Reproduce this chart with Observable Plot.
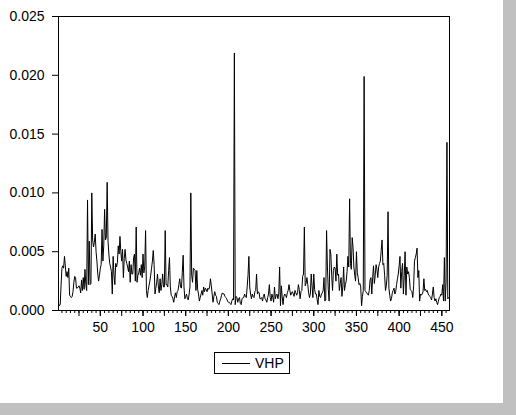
<!DOCTYPE html>
<html>
<head>
<meta charset="utf-8">
<script src="https://cdn.jsdelivr.net/npm/d3@7"></script>
<script src="https://cdn.jsdelivr.net/npm/@observablehq/plot@0.6"></script>
<style>
  html, body { margin: 0; padding: 0; background: #c0c0c0; }
  #wrap { position: relative; width: 516px; height: 415px; background: #c0c0c0; overflow: hidden; }
  #white { position: absolute; left: 0; top: 0; width: 503px; height: 403px; background: #ffffff; }
  #legend {
    position: absolute; left: 214px; top: 352px; width: 74px; height: 20px;
    border: 1px solid #000; display: flex; align-items: center;
    font-family: "Liberation Sans", Arial, sans-serif; font-size: 14px; color: #000;
  }
  #legend .swatch { width: 28px; height: 0; border-top: 1px solid #000; margin-left: 7px; margin-right: 5px; }
</style>
</head>
<body>
<div id="wrap">
  <div id="white">
    <div id="chart"></div>
    <div id="legend"><span class="swatch"></span><span id="legendLabel"></span></div>
  </div>
</div>
<script>
const seriesName = "VHP";
const yTicks = [0, 0.005, 0.010, 0.015, 0.020, 0.025];
const xLabelTicks = [50, 100, 150, 200, 250, 300, 350, 400, 450];
const xMajorTicks = [25, 50, 75, 100, 125, 150, 175, 200, 225, 250, 275, 300, 325, 350, 375, 400, 425, 450];
const xMinorTicks = [5,10,15,20,25,30,35,40,45,50,55,60,65,70,75,80,85,90,95,100,
  105,110,115,120,125,130,135,140,145,150,155,160,165,170,175,180,185,190,195,200,
  205,210,215,220,225,230,235,240,245,250,255,260,265,270,275,280,285,290,295,300,
  305,310,315,320,325,330,335,340,345,350,355,360,365,370,375,380,385,390,395,400,
  405,410,415,420,425,430,435,440,445,450,455];

const vhp = [
  0.0006,0.0004,0.0005,0.0021,0.0036,0.0038,0.0036,0.0046,0.0038,0.0029,
  0.0033,0.0028,0.0036,0.0013,0.0012,0.0011,0.0012,0.0016,0.0024,0.0029,
  0.0028,0.0019,0.0019,0.0020,0.0021,0.0019,0.0015,0.0026,0.0017,0.0028,
  0.0018,0.0035,0.0022,0.0017,0.0094,0.0022,0.0059,0.0022,0.0023,0.0100,
  0.0060,0.0054,0.0058,0.0065,0.0050,0.0042,0.0031,0.0025,0.0030,0.0036,
  0.0039,0.0069,0.0042,0.0055,0.0086,0.0060,0.0062,0.0109,0.0059,0.0048,
  0.0040,0.0037,0.0033,0.0014,0.0046,0.0030,0.0022,0.0040,0.0037,0.0041,
  0.0055,0.0048,0.0063,0.0050,0.0042,0.0052,0.0028,0.0044,0.0052,0.0043,
  0.0040,0.0037,0.0033,0.0042,0.0024,0.0039,0.0031,0.0031,0.0045,0.0048,
  0.0025,0.0071,0.0024,0.0030,0.0032,0.0036,0.0030,0.0039,0.0028,0.0048,
  0.0032,0.0037,0.0068,0.0017,0.0011,0.0017,0.0021,0.0025,0.0030,0.0036,
  0.0042,0.0051,0.0039,0.0014,0.0019,0.0024,0.0031,0.0020,0.0015,0.0027,
  0.0017,0.0022,0.0031,0.0020,0.0020,0.0068,0.0022,0.0022,0.0020,0.0034,
  0.0045,0.0020,0.0013,0.0012,0.0010,0.0007,0.0012,0.0015,0.0011,0.0016,
  0.0017,0.0022,0.0027,0.0020,0.0019,0.0032,0.0047,0.0020,0.0010,0.0012,
  0.0014,0.0010,0.0009,0.0014,0.0020,0.0100,0.0030,0.0024,0.0036,0.0035,
  0.0034,0.0017,0.0034,0.0018,0.0014,0.0008,0.0011,0.0014,0.0017,0.0013,
  0.0020,0.0016,0.0019,0.0018,0.0016,0.0019,0.0018,0.0020,0.0027,0.0021,
  0.0014,0.0007,0.0012,0.0016,0.0013,0.0012,0.0007,0.0006,0.0005,0.0008,
  0.0010,0.0013,0.0015,0.0014,0.0014,0.0012,0.0011,0.0010,0.0008,0.0007,
  0.0007,0.0006,0.0005,0.0008,0.0010,0.0009,0.0219,0.0005,0.0012,0.0011,
  0.0007,0.0010,0.0011,0.0006,0.0005,0.0010,0.0011,0.0011,0.0014,0.0012,
  0.0011,0.0020,0.0030,0.0046,0.0020,0.0014,0.0010,0.0014,0.0012,0.0011,
  0.0016,0.0017,0.0031,0.0014,0.0016,0.0015,0.0010,0.0010,0.0011,0.0008,
  0.0012,0.0014,0.0010,0.0009,0.0007,0.0011,0.0014,0.0022,0.0011,0.0008,
  0.0014,0.0011,0.0007,0.0020,0.0010,0.0013,0.0014,0.0010,0.0014,0.0037,
  0.0004,0.0021,0.0012,0.0005,0.0012,0.0014,0.0013,0.0011,0.0015,0.0017,
  0.0022,0.0017,0.0013,0.0015,0.0016,0.0014,0.0012,0.0017,0.0015,0.0013,
  0.0015,0.0022,0.0018,0.0010,0.0016,0.0017,0.0029,0.0031,0.0071,0.0021,
  0.0023,0.0028,0.0022,0.0015,0.0011,0.0014,0.0031,0.0021,0.0011,0.0031,
  0.0018,0.0014,0.0014,0.0009,0.0005,0.0017,0.0012,0.0011,0.0014,0.0015,
  0.0017,0.0028,0.0008,0.0009,0.0068,0.0037,0.0018,0.0008,0.0052,0.0048,
  0.0030,0.0017,0.0034,0.0037,0.0036,0.0025,0.0048,0.0030,0.0031,0.0017,
  0.0023,0.0028,0.0012,0.0020,0.0037,0.0017,0.0022,0.0025,0.0033,0.0046,
  0.0037,0.0095,0.0040,0.0035,0.0062,0.0054,0.0037,0.0030,0.0025,0.0050,
  0.0032,0.0028,0.0022,0.0023,0.0020,0.0004,0.0012,0.0017,0.0199,0.0017,
  0.0016,0.0015,0.0014,0.0013,0.0017,0.0026,0.0028,0.0014,0.0028,0.0038,
  0.0023,0.0030,0.0039,0.0035,0.0028,0.0037,0.0040,0.0042,0.0051,0.0060,
  0.0039,0.0040,0.0030,0.0017,0.0021,0.0030,0.0084,0.0019,0.0013,0.0008,
  0.0010,0.0015,0.0017,0.0019,0.0014,0.0016,0.0022,0.0027,0.0031,0.0038,
  0.0046,0.0019,0.0033,0.0040,0.0014,0.0030,0.0050,0.0013,0.0037,0.0031,
  0.0033,0.0028,0.0018,0.0017,0.0016,0.0011,0.0021,0.0042,0.0045,0.0048,
  0.0053,0.0028,0.0034,0.0008,0.0014,0.0013,0.0014,0.0016,0.0027,0.0017,
  0.0018,0.0016,0.0017,0.0014,0.0013,0.0012,0.0011,0.0009,0.0014,0.0020,
  0.0011,0.0008,0.0010,0.0007,0.0005,0.0008,0.0011,0.0012,0.0014,0.0013,
  0.0022,0.0008,0.0045,0.0008,0.0024,0.0143,0.0010,0.0011,0.0010
];

const data = vhp.map((v, i) => ({obs: i + 1, value: v}));
const font = "'Liberation Sans', Arial, sans-serif";

const chart = Plot.plot({
  width: 503,
  height: 340,
  marginLeft: 58,
  marginRight: 54,
  marginTop: 16,
  marginBottom: 30,
  style: {fontFamily: font, fontSize: "14px", color: "#000", background: "transparent", overflow: "visible"},
  x: {domain: [1, vhp.length]},
  y: {domain: [0, 0.025]},
  marks: [
    Plot.axisX({ticks: xMinorTicks, tickSize: 3, tickFormat: () => "", label: null, stroke: "#000"}),
    Plot.axisX({ticks: xMajorTicks, tickSize: 6, tickFormat: () => "", label: null, stroke: "#000"}),
    Plot.axisX({ticks: xLabelTicks, tickSize: 6, tickPadding: 6, label: null, stroke: "#000", fill: "#000"}),
    Plot.axisY({ticks: yTicks, tickSize: 6, tickPadding: 8, tickFormat: d3.format(".3f"), label: null, stroke: "#000", fill: "#000"}),
    Plot.line(data, {x: "obs", y: "value", stroke: "#000", strokeWidth: 1}),
    Plot.frame({stroke: "#000", strokeWidth: 1})
  ]
});
document.getElementById("chart").appendChild(chart);
document.getElementById("legendLabel").textContent = seriesName;
</script>
</body>
</html>
